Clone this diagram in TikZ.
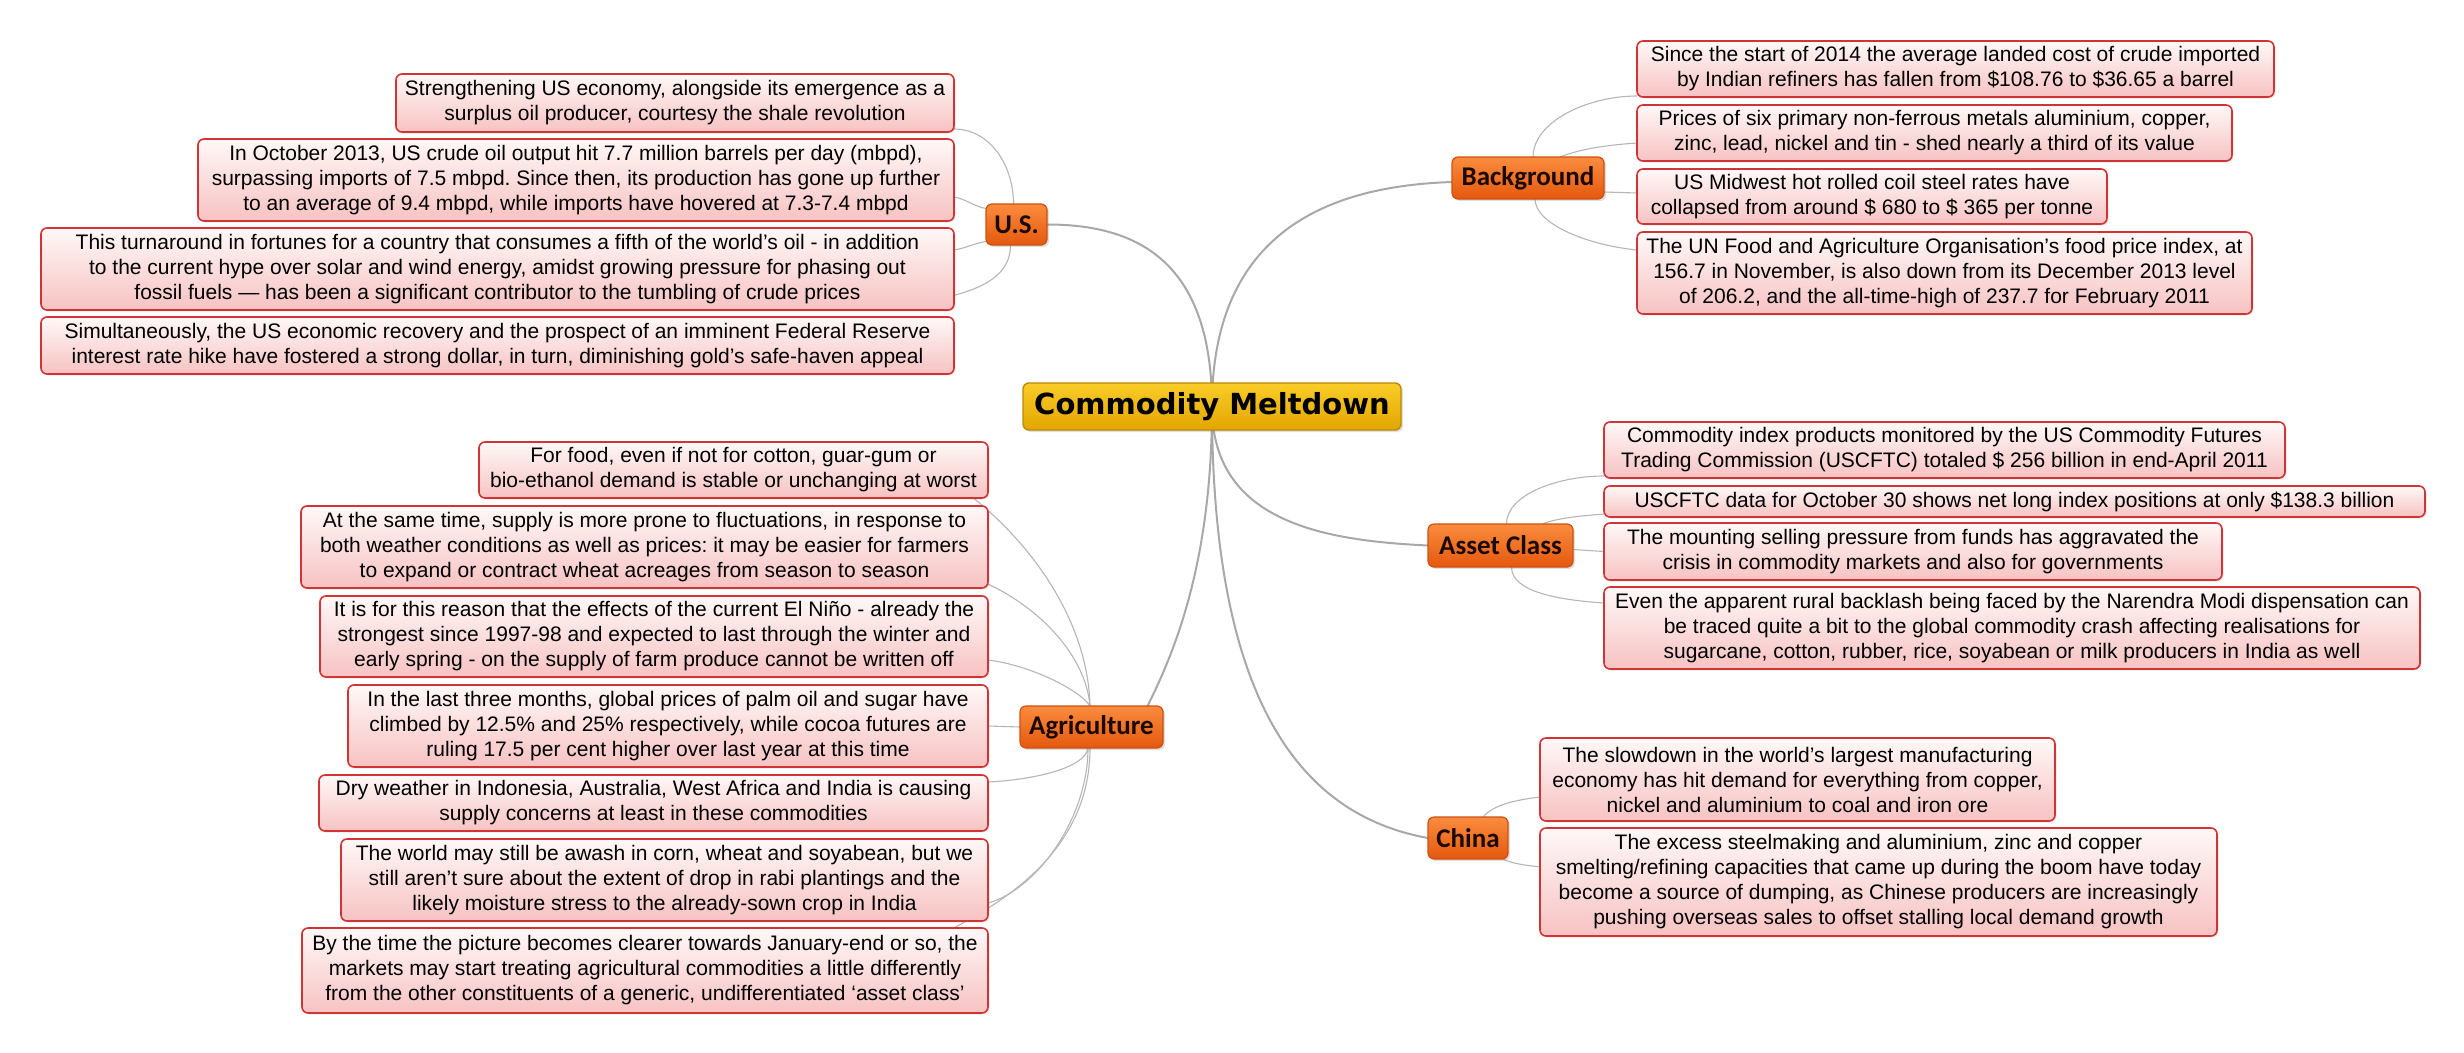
\documentclass[tikz,border=0pt]{standalone}
\usepackage{fontspec}
\setmainfont{Liberation Sans}
\newfontfamily\topicfont{Carlito}
\newfontfamily\centralfont{DejaVu Sans}
\usetikzlibrary{shadows,calc}
\pgfdeclarelayer{background}
\pgfsetlayers{background,main}
\frenchspacing
\definecolor{leafborder}{RGB}{208,52,52}
\definecolor{leaftop}{RGB}{255,248,248}
\definecolor{leafbot}{RGB}{247,194,194}
\definecolor{topictop}{RGB}{250,140,62}
\definecolor{topicbot}{RGB}{228,88,14}
\definecolor{topicborder}{RGB}{205,82,18}
\definecolor{topictext}{RGB}{28,10,0}
\definecolor{cmtop}{RGB}{250,204,40}
\definecolor{cmbot}{RGB}{226,166,0}
\definecolor{cmborder}{RGB}{188,138,0}
\definecolor{connmain}{RGB}{168,168,168}
\definecolor{connleaf}{RGB}{182,182,182}
\tikzset{
  leaf/.style={draw=leafborder, line width=1.6pt, rounded corners=6pt,
    top color=leaftop, bottom color=leafbot, align=center, inner xsep=5pt, inner ysep=0pt,
    outer sep=0pt, font={\fontsize{21}{25}\selectfont},
    drop shadow={opacity=0.18, shadow xshift=1.5pt, shadow yshift=-1.5pt}},
  topic/.style={draw=topicborder, line width=1.2pt, rounded corners=6pt,
    top color=topictop, bottom color=topicbot, text=topictext, inner sep=0pt, outer sep=0pt,
    font={\topicfont\bfseries\fontsize{27}{30}\selectfont},
    drop shadow={opacity=0.25, shadow xshift=2pt, shadow yshift=-2pt}},
  central/.style={draw=cmborder, line width=1.4pt, rounded corners=6pt,
    top color=cmtop, bottom color=cmbot, text=black, inner sep=0pt, outer sep=0pt,
    font={\centralfont\bfseries\fontsize{29}{32}\selectfont},
    drop shadow={opacity=0.25, shadow xshift=2pt, shadow yshift=-2pt}},
  mainconn/.style={draw=connmain, line width=2pt},
  leafconn/.style={draw=connleaf, line width=1.1pt}
}
% left-side leaf: name, left, top, right, bottom, text (anchored at its top right corner)
\newcommand\leafL[6]{%
  \pgfmathsetmacro\lfw{#4-#2}\pgfmathsetmacro\lfh{#5-#3}%
  \node[leaf, anchor=north east, minimum width=\lfw pt, minimum height=\lfh pt] (#1) at (#4,#3) {#6};}
% right-side leaf (anchored at its top left corner)
\newcommand\leafR[6]{%
  \pgfmathsetmacro\lfw{#4-#2}\pgfmathsetmacro\lfh{#5-#3}%
  \node[leaf, anchor=north west, minimum width=\lfw pt, minimum height=\lfh pt] (#1) at (#2,#3) {#6};}
\begin{document}
\begin{tikzpicture}[x=1pt,y=-1pt]
\useasboundingbox (0,0) rectangle (2464,1052);
\begin{pgfonlayer}{background}
\fill[white] (0,0) rectangle (2464,1052);
\end{pgfonlayer}

% central topic
\node[central, minimum width=378pt, minimum height=47pt] (CM) at (1212,406.5) {Commodity Meltdown};

% main topics
\node[topic, minimum width=61pt, minimum height=41pt] (US) at (1016.5,224.5) {U.S.};
\node[topic, minimum width=152pt, minimum height=42pt] (BG) at (1528,178) {Background};
\node[topic, minimum width=145pt, minimum height=43pt] (AC) at (1500.5,545.5) {Asset Class};
\node[topic, minimum width=80pt, minimum height=42pt] (CN) at (1468,838) {China};
\node[topic, minimum width=143pt, minimum height=42pt] (AG) at (1091.5,727) {Agriculture};

% U.S. leaves
\leafL{u1}{396}{74}{954}{132}{Strengthening US economy, alongside its emergence as a\\surplus oil producer, courtesy the shale revolution}
\leafL{u2}{198}{139}{954}{221}{In October 2013, US crude oil output hit 7.7 million barrels per day (mbpd),\\surpassing imports of 7.5 mbpd. Since then, its production has gone up further\\to an average of 9.4 mbpd, while imports have hovered at 7.3-7.4 mbpd}
\leafL{u3}{41}{228}{954}{310}{This turnaround in fortunes for a country that consumes a fifth of the world’s oil - in addition\\to the current hype over solar and wind energy, amidst growing pressure for phasing out\\fossil fuels — has been a significant contributor to the tumbling of crude prices}
\leafL{u4}{41}{317}{954}{374}{Simultaneously, the US economic recovery and the prospect of an imminent Federal Reserve\\interest rate hike have fostered a strong dollar, in turn, diminishing gold’s safe-haven appeal}

% Background leaves
\leafR{b1}{1637}{41}{2274}{97}{Since the start of 2014 the average landed cost of crude imported\\by Indian refiners has fallen from \$108.76 to \$36.65 a barrel}
\leafR{b2}{1637}{105}{2232}{161}{Prices of six primary non-ferrous metals aluminium, copper,\\zinc, lead, nickel and tin - shed nearly a third of its value}
\leafR{b3}{1637}{169}{2107}{224}{US Midwest hot rolled coil steel rates have\\collapsed from around \$ 680 to \$ 365 per tonne}
\leafR{b4}{1637}{232}{2252}{314}{The UN Food and Agriculture Organisation’s food price index, at\\156.7 in November, is also down from its December 2013 level\\of 206.2, and the all-time-high of 237.7 for February 2011}

% Asset Class leaves
\leafR{a1}{1604}{422}{2285}{478}{Commodity index products monitored by the US Commodity Futures\\Trading Commission (USCFTC) totaled \$ 256 billion in end-April 2011}
\leafR{a2}{1604}{486}{2425}{517}{USCFTC data for October 30 shows net long index positions at only \$138.3 billion}
\leafR{a3}{1604}{523}{2222}{580}{The mounting selling pressure from funds has aggravated the\\crisis in commodity markets and also for governments}
\leafR{a4}{1604}{587}{2420}{669}{Even the apparent rural backlash being faced by the Narendra Modi dispensation can\\be traced quite a bit to the global commodity crash affecting realisations for\\sugarcane, cotton, rubber, rice, soyabean or milk producers in India as well}

% China leaves
\leafR{c1}{1540}{738}{2055}{821}{The slowdown in the world’s largest manufacturing\\economy has hit demand for everything from copper,\\nickel and aluminium to coal and iron ore}
\leafR{c2}{1540}{828}{2217}{936}{The excess steelmaking and aluminium, zinc and copper\\smelting/refining capacities that came up during the boom have today\\become a source of dumping, as Chinese producers are increasingly\\pushing overseas sales to offset stalling local demand growth}

% Agriculture leaves
\leafL{g1}{479}{442}{988}{498}{For food, even if not for cotton, guar-gum or\\bio-ethanol demand is stable or unchanging at worst}
\leafL{g2}{301}{506}{988}{588}{At the same time, supply is more prone to fluctuations, in response to\\both weather conditions as well as prices: it may be easier for farmers\\to expand or contract wheat acreages from season to season}
\leafL{g3}{320}{596}{988}{677}{It is for this reason that the effects of the current El Niño - already the\\strongest since 1997-98 and expected to last through the winter and\\early spring - on the supply of farm produce cannot be written off}
\leafL{g4}{348}{685}{988}{767}{In the last three months, global prices of palm oil and sugar have\\climbed by 12.5\% and 25\% respectively, while cocoa futures are\\ruling 17.5 per cent higher over last year at this time}
\leafL{g5}{319}{775}{988}{831}{Dry weather in Indonesia, Australia, West Africa and India is causing\\supply concerns at least in these commodities}
\leafL{g6}{341}{839}{988}{921}{The world may still be awash in corn, wheat and soyabean, but we\\still aren’t sure about the extent of drop in rabi plantings and the\\likely moisture stress to the already-sown crop in India}
\leafL{g7}{302}{928}{988}{1013}{By the time the picture becomes clearer towards January-end or so, the\\markets may start treating agricultural commodities a little differently\\from the other constituents of a generic, undifferentiated ‘asset class’}

\begin{pgfonlayer}{background}
% central to main topics
\draw[mainconn] (CM.center) .. controls +(0,-150) and +(85,0) .. (US.east);
\draw[mainconn] (CM.center) .. controls +(0,-176) and +(-122,4) .. ([yshift=-4pt]BG.west);
\draw[mainconn] (CM.center) .. controls +(0,114) and +(-108,-5) .. (AC.west);
\draw[mainconn] (CM.center) .. controls +(0,294) and +(-128,-23) .. (CN.west);
\draw[mainconn] (CM.center) .. controls +(0,154) and +(28,-56) .. ([xshift=56pt]AG.north);

% U.S. leaf connectors
\draw[leafconn] ([xshift=-3pt]US.north) .. controls +(0,-40) and +(35,0) .. ([yshift=3pt]u1.south east);
\draw[leafconn] ([yshift=16pt]US.west) .. controls +(-12,-2) and +(12,2) .. ([yshift=24pt]u2.south east);
\draw[leafconn] ([yshift=-17pt]US.west) .. controls +(-12,2) and +(12,-2) .. ([yshift=-22pt]u3.north east);
\draw[leafconn] ([xshift=-6pt]US.south) .. controls +(0,30) and +(50,-10) .. ([xshift=-20pt,yshift=10pt]u3.south east);

% Background leaf connectors
\draw[leafconn] ([xshift=5pt]BG.north) .. controls +(0,-35) and +(-50,0) .. ([yshift=1pt]b1.south west);
\draw[leafconn] ([xshift=32pt]BG.north) .. controls +(20,-8) and +(-30,2) .. ([yshift=18pt]b2.south west);
\draw[leafconn] ([yshift=-14pt]BG.east) -- ([yshift=-24pt]b3.north west);
\draw[leafconn] ([xshift=7pt]BG.south) .. controls +(0,25) and +(-50,-5) .. ([yshift=-18pt]b4.north west);

% Asset Class leaf connectors
\draw[leafconn] ([xshift=6pt]AC.north) .. controls +(0,-30) and +(-45,0) .. ([yshift=2pt]a1.south west);
\draw[leafconn] ([xshift=42pt]AC.north) .. controls +(15,-6) and +(-25,2) .. ([yshift=3pt]a2.south west);
\draw[leafconn] ([yshift=-4pt]AC.east) -- (a3.west);
\draw[leafconn] ([xshift=11pt]AC.south) .. controls +(0,25) and +(-45,-3) .. ([yshift=-16pt]a4.north west);

% China leaf connectors
\draw[leafconn] ([xshift=15pt]CN.north) .. controls +(10,-12) and +(-25,3) .. ([yshift=24pt]c1.south west);
\draw[leafconn] ([xshift=-5pt]CN.south east) .. controls +(10,5) and +(-15,-2) .. ([yshift=-39pt]c2.north west);

% Agriculture leaf connectors
\draw[leafconn] ([xshift=-1.5pt]AG.north) .. controls +(-2,-86) and +(67,50) .. ([xshift=-25pt,yshift=8pt]g1.south east);
\draw[leafconn] ([xshift=-1.5pt]AG.north) .. controls +(-5,-56) and +(52,20) .. ([xshift=-10pt,yshift=8pt]g2.south east);
\draw[leafconn] ([xshift=-1.5pt]AG.north) .. controls +(-10,-16) and +(42,5) .. ([yshift=17pt]g3.south east);
\draw[leafconn] (AG.west) -- (g4.east);
\draw[leafconn] ([xshift=-3.5pt]AG.south) .. controls +(-3,21) and +(42,-2) .. ([yshift=-7pt]g5.north east);
\draw[leafconn] ([xshift=-3.5pt]AG.south) .. controls +(0,71) and +(48,-13) .. ([yshift=18pt]g6.south east);
\draw[leafconn] ([xshift=-1.5pt]AG.south) .. controls +(0,111) and +(60,-30) .. ([xshift=-58pt,yshift=-12pt]g7.north east);
\end{pgfonlayer}
\end{tikzpicture}
\end{document}
